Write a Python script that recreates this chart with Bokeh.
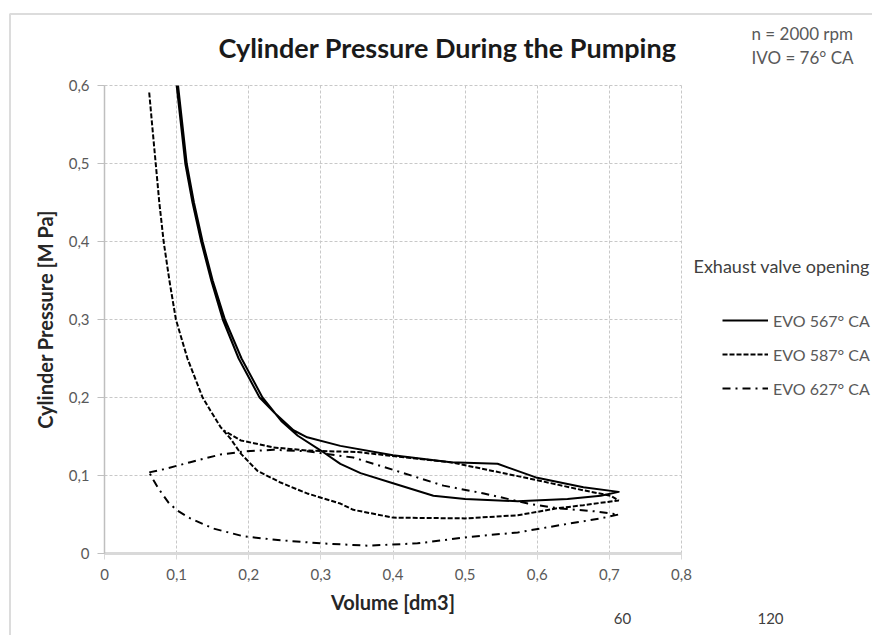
from bokeh.plotting import figure
from bokeh.models import FixedTicker, Label, Legend, LegendItem, BoxAnnotation, Grid
from bokeh.embed import file_html
from bokeh.resources import INLINE

# ---- data ----
x_ticks = [0.0, 0.1, 0.2, 0.3, 0.4, 0.5, 0.6, 0.7, 0.8]
x_tick_labels = ["0", "0,1", "0,2", "0,3", "0,4", "0,5", "0,6", "0,7", "0,8"]
y_ticks = [0.0, 0.1, 0.2, 0.3, 0.4, 0.5, 0.6]
y_tick_labels = ["0", "0,1", "0,2", "0,3", "0,4", "0,5", "0,6"]

series_names = ["EVO 567° CA", "EVO 587° CA", "EVO 627° CA"]

evo567_v = [0.100, 0.106, 0.112, 0.122, 0.134, 0.148, 0.164, 0.186, 0.215, 0.236,
            0.262, 0.281, 0.327, 0.400, 0.480, 0.545, 0.600, 0.664, 0.713,
            0.688, 0.642, 0.573, 0.500, 0.456, 0.400, 0.355, 0.327, 0.300,
            0.268, 0.245, 0.219, 0.190, 0.167, 0.150, 0.136, 0.124, 0.114, 0.108, 0.102]
evo567_p = [0.600, 0.550, 0.500, 0.450, 0.400, 0.350, 0.300, 0.250, 0.200, 0.180,
            0.158, 0.149, 0.138, 0.126, 0.117, 0.115, 0.097, 0.085, 0.079,
            0.074, 0.070, 0.067, 0.070, 0.074, 0.090, 0.103, 0.115, 0.132,
            0.151, 0.170, 0.200, 0.250, 0.300, 0.350, 0.400, 0.450, 0.500, 0.550, 0.600]

evo587_v = [0.062, 0.066, 0.071, 0.076, 0.082, 0.090, 0.099, 0.115, 0.136, 0.147,
            0.161, 0.175, 0.189, 0.212, 0.244, 0.281, 0.327, 0.345, 0.400, 0.500,
            0.573, 0.628, 0.664, 0.713, 0.702, 0.664, 0.600, 0.480, 0.400, 0.351,
            0.281, 0.234, 0.189, 0.165]
evo587_p = [0.591, 0.550, 0.500, 0.450, 0.400, 0.350, 0.300, 0.250, 0.200, 0.183,
            0.162, 0.147, 0.128, 0.106, 0.091, 0.077, 0.064, 0.056, 0.046, 0.045,
            0.049, 0.058, 0.062, 0.068, 0.074, 0.081, 0.094, 0.117, 0.125, 0.130,
            0.132, 0.136, 0.145, 0.158]

evo627_v = [0.062, 0.082, 0.119, 0.161, 0.196, 0.234, 0.281, 0.345, 0.415, 0.470,
            0.526, 0.587, 0.628, 0.680, 0.713, 0.688, 0.642, 0.573, 0.503, 0.434,
            0.365, 0.300, 0.244, 0.193, 0.151, 0.119, 0.101, 0.089, 0.075, 0.068, 0.062]
evo627_p = [0.104, 0.108, 0.117, 0.127, 0.131, 0.133, 0.131, 0.123, 0.103, 0.087,
            0.077, 0.064, 0.058, 0.054, 0.050, 0.045, 0.038, 0.027, 0.021, 0.013,
            0.010, 0.013, 0.017, 0.022, 0.032, 0.045, 0.055, 0.065, 0.083, 0.094, 0.104]

chart_title = "Cylinder Pressure During the Pumping"
info_lines = ["n = 2000 rpm", "IVO = 76° CA"]
legend_heading = "Exhaust valve opening"
extra_labels = ["60", "120"]

FONT = "Lato"

# plotted axis extent
X0, X1 = 0.0, 0.8
Y0, Y1 = 0.0, 0.6

# the frame fills the whole canvas; the axes are pinned with fixed_location
W, H = 872, 635
PX_LEFT, PX_RIGHT = 104, 681      # pixel of x=0 and x=0.8
PX_BOTTOM, PX_TOP = 553, 85       # pixel of y=0 and y=0.6
sx = (PX_RIGHT - PX_LEFT) / (X1 - X0)
sy = (PX_BOTTOM - PX_TOP) / (Y1 - Y0)
x_range = (X0 - PX_LEFT / sx, X0 + (W - PX_LEFT) / sx)
y_range = (Y0 - (H - PX_BOTTOM) / sy, Y0 + PX_BOTTOM / sy)

p = figure(frame_width=W, frame_height=H, min_border=0,
           x_range=x_range, y_range=y_range,
           output_backend="svg", toolbar_location=None, title=None)
p.outline_line_color = None
p.background_fill_color = "white"
p.border_fill_color = "white"

# axes
p.xaxis.fixed_location = Y0
p.yaxis.fixed_location = X0
p.xaxis.bounds = (X0, X1)
p.yaxis.bounds = (Y0, Y1)
p.xaxis.ticker = FixedTicker(ticks=x_ticks)
p.yaxis.ticker = FixedTicker(ticks=y_ticks)
p.xaxis.major_label_overrides = dict(zip(x_ticks, x_tick_labels))
p.yaxis.major_label_overrides = dict(zip(y_ticks, y_tick_labels))
p.xaxis.minor_tick_line_color = None
p.yaxis.minor_tick_line_color = None
for ax in (p.xaxis, p.yaxis):
    ax.major_label_text_font = FONT
    ax.major_label_text_font_size = "15px"
    ax.major_label_text_color = "#595959"
    ax.axis_label_text_font = FONT
    ax.axis_label_text_font_style = "bold"
    ax.axis_label_text_font_size = "20px"
    ax.axis_label_text_color = "#262626"
    ax.major_tick_in = 0
p.xaxis.axis_line_color = "#d9d9d9"
p.xaxis.axis_line_width = 3
p.xaxis.major_tick_line_color = "#d9d9d9"
p.xaxis.major_tick_out = 6
p.xaxis.major_label_standoff = 9
p.xaxis.axis_label = "Volume [dm3]"
p.xaxis.axis_label_standoff = 7
p.yaxis.axis_line_color = "#bfbfbf"
p.yaxis.axis_line_width = 1.5
p.yaxis.major_tick_line_color = "#bfbfbf"
p.yaxis.major_tick_out = 7
p.yaxis.major_label_standoff = 8
p.yaxis.axis_label = "Cylinder Pressure [M Pa]"
p.yaxis.axis_label_standoff = 9

GRID_COLOR = "#c8c8c8"
if "cross_bounds" in Grid.properties():
    p.xgrid.ticker = FixedTicker(ticks=x_ticks)
    p.ygrid.ticker = FixedTicker(ticks=y_ticks)
    p.xgrid.bounds = (X0, X1)
    p.ygrid.bounds = (Y0, Y1)
    p.xgrid.cross_bounds = (Y0, Y1)
    p.ygrid.cross_bounds = (X0, X1)
    for g in (p.xgrid, p.ygrid):
        g.grid_line_color = GRID_COLOR
        g.grid_line_dash = "3 2"
        g.grid_line_width = 1
else:
    p.xgrid.grid_line_color = None
    p.ygrid.grid_line_color = None
    p.segment(x0=x_ticks[1:], y0=[Y0] * (len(x_ticks) - 1), x1=x_ticks[1:], y1=[Y1] * (len(x_ticks) - 1),
              line_color=GRID_COLOR, line_dash="3 2", line_width=1, level="underlay")
    p.segment(x0=[X0] * (len(y_ticks) - 1), y0=y_ticks[1:], x1=[X1] * (len(y_ticks) - 1), y1=y_ticks[1:],
              line_color=GRID_COLOR, line_dash="3 2", line_width=1, level="underlay")

# series
r1 = p.line(evo567_v, evo567_p, line_color="black", line_width=2, line_join="round")
r2 = p.line(evo587_v, evo587_p, line_color="black", line_width=2, line_dash="5 2")
r3 = p.line(evo627_v, evo627_p, line_color="black", line_width=2, line_dash="8 5 2 5")

# series legend: glyph starts at x=722 px, rows centred at 320/354/388 px
legend = Legend(items=[LegendItem(label=series_names[0], renderers=[r1]),
                       LegendItem(label=series_names[1], renderers=[r2]),
                       LegendItem(label=series_names[2], renderers=[r3])],
                location=(722, H - 398), padding=0, margin=0,
                border_line_color=None, background_fill_alpha=0,
                glyph_width=46, glyph_height=20, label_height=20,
                label_standoff=5, spacing=14,
                label_text_font=FONT, label_text_font_size="16px", label_text_color="#595959")
p.add_layout(legend)


def px_x(px):
    return X0 + (px - PX_LEFT) / sx


def px_y(py):
    return Y0 + (PX_BOTTOM - py) / sy


def add_text(text, px, py, size, color, align="left", style="normal"):
    p.add_layout(Label(x=px_x(px), y=px_y(py), text=text, text_font=FONT,
                       text_font_size=size, text_font_style=style, text_color=color,
                       text_align=align, text_baseline="middle"))


add_text(chart_title, 447, 47, "27px", "#1a1a1a", align="center", style="bold")
add_text(info_lines[0], 751, 33, "17px", "#595959")
add_text(info_lines[1], 751, 57, "17px", "#595959")
add_text(legend_heading, 693, 265, "18px", "#404040")
add_text(extra_labels[0], 622, 618, "15px", "#404040", align="center")
add_text(extra_labels[1], 770, 618, "15px", "#404040", align="center")

# grey outline of the chart area (only its left and top edges are in view)
p.add_layout(BoxAnnotation(left=px_x(9.5), top=px_y(13.5), right=px_x(W + 50), bottom=px_y(H + 50),
                           fill_alpha=0, line_color="#8a8a8a", line_width=2))

open("out.html", "w").write(file_html(p, INLINE))
